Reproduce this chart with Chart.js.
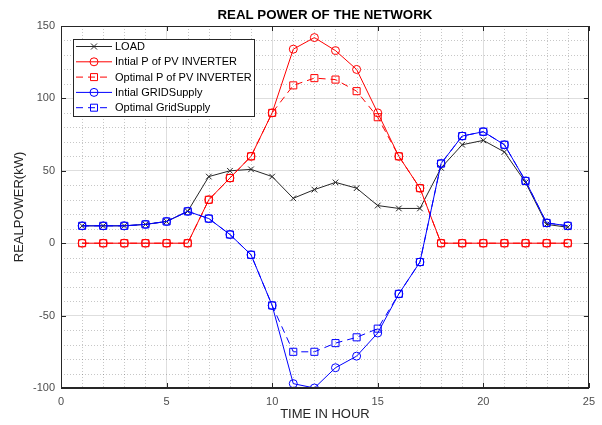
<!DOCTYPE html>
<html>
<head>
<meta charset="utf-8">
<script src="https://cdn.jsdelivr.net/npm/chart.js@4/dist/chart.umd.min.js"></script>
<style>
  body { margin: 0; background: #fff; }
  #wrap { width: 602px; height: 425px; }
</style>
</head>
<body>
<div id="wrap"><canvas id="myChart" width="602" height="425"></canvas></div>
<script>
// hours of the day
const hours = [1, 2, 3, 4, 5, 6, 7, 8, 9, 10, 11, 12, 13, 14, 15, 16, 17, 18, 19, 20, 21, 22, 23, 24];

// real power values (kW)
const loadKW = [12, 12, 12, 13, 15, 22, 46, 50, 51, 46, 31, 37, 42, 38, 26, 24, 24, 52, 68, 71, 63, 42, 13, 11];
const pvInitial = [0, 0, 0, 0, 0, 0, 30, 45, 60, 90, 134, 142, 133, 120, 90, 60, 38, 0, 0, 0, 0, 0, 0, 0];
const pvOptimal = [0, 0, 0, 0, 0, 0, 30, 45, 60, 90, 109, 114, 113, 105, 87, 60, 38, 0, 0, 0, 0, 0, 0, 0];
const gridInitial = [12, 12, 12, 13, 15, 22, 17, 6, -8, -43, -97, -100, -86, -78, -62, -35, -13, 55, 74, 77, 68, 43, 14, 12];
const gridOptimal = [12, 12, 12, 13, 15, 22, 17, 6, -8, -43, -75, -75, -69, -65, -59, -35, -13, 55, 74, 77, 68, 43, 14, 12];

const seriesNames = ["LOAD", "Intial P of PV INVERTER", "Optimal P of PV INVERTER", "Intial GRIDSupply", "Optimal GridSupply"];
const xTicks = [0, 5, 10, 15, 20, 25];
const yTicks = [-100, -50, 0, 50, 100, 150];

const FONT = "'Liberation Sans', Arial, Helvetica, sans-serif";

function toPoints(values) {
  return hours.map((h, i) => ({ x: h, y: values[i] }));
}

function makeSet(label, values, color, style, dashed, order) {
  return {
    label: label,
    data: toPoints(values),
    borderColor: color,
    backgroundColor: "transparent",
    borderWidth: 1,
    borderDash: dashed ? [7, 5] : [],
    pointStyle: style,
    pointRadius: style === "rect" ? 5 : 4,
    pointBorderColor: color,
    pointBackgroundColor: "transparent",
    pointBorderWidth: 1,
    tension: 0,
    order: order
  };
}

// marker used in the legend
function drawMarker(ctx, style, x, y, color) {
  ctx.save();
  ctx.strokeStyle = color;
  ctx.lineWidth = 1;
  ctx.setLineDash([]);
  ctx.beginPath();
  if (style === "circle") {
    ctx.arc(x, y, 4, 0, Math.PI * 2);
  } else if (style === "rect") {
    ctx.rect(x - 3.5, y - 3.5, 7, 7);
  } else {
    ctx.moveTo(x - 3, y - 3); ctx.lineTo(x + 3, y + 3);
    ctx.moveTo(x + 3, y - 3); ctx.lineTo(x - 3, y + 3);
  }
  ctx.stroke();
  ctx.restore();
}

// minor grid, inner ticks, box, title and legend (matlab look)
const matlabLook = {
  id: "matlabLook",
  beforeDatasetsDraw(chart) {
    const ctx = chart.ctx;
    const a = chart.chartArea;
    const xs = chart.scales.x;
    const ys = chart.scales.y;
    ctx.save();
    ctx.strokeStyle = "rgba(0,0,0,0.22)";
    ctx.lineWidth = 1;
    ctx.setLineDash([1, 2]);
    for (let v = 1; v < 25; v++) {
      if (v % 5 === 0) continue;
      const px = Math.round(xs.getPixelForValue(v)) + 0.5;
      ctx.beginPath(); ctx.moveTo(px, a.top); ctx.lineTo(px, a.bottom); ctx.stroke();
    }
    for (let v = -90; v < 150; v += 10) {
      if (v % 50 === 0) continue;
      const py = Math.round(ys.getPixelForValue(v)) + 0.5;
      ctx.beginPath(); ctx.moveTo(a.left, py); ctx.lineTo(a.right, py); ctx.stroke();
    }
    ctx.restore();
  },
  afterDraw(chart) {
    const ctx = chart.ctx;
    const a = chart.chartArea;
    const xs = chart.scales.x;
    const ys = chart.scales.y;
    ctx.save();
    // box
    ctx.strokeStyle = "#262626";
    ctx.lineWidth = 1;
    ctx.setLineDash([]);
    ctx.strokeRect(Math.round(a.left) + 0.5, Math.round(a.top) + 0.5, Math.round(a.right - a.left) - 1, Math.round(a.bottom - a.top) - 1);
    // inner ticks
    const tl = 5;
    xTicks.forEach((v) => {
      const px = Math.round(xs.getPixelForValue(v)) + 0.5;
      ctx.beginPath();
      ctx.moveTo(px, a.bottom); ctx.lineTo(px, a.bottom - tl);
      ctx.moveTo(px, a.top); ctx.lineTo(px, a.top + tl);
      ctx.stroke();
    });
    yTicks.forEach((v) => {
      const py = Math.round(ys.getPixelForValue(v)) + 0.5;
      ctx.beginPath();
      ctx.moveTo(a.left, py); ctx.lineTo(a.left + tl, py);
      ctx.moveTo(a.right, py); ctx.lineTo(a.right - tl, py);
      ctx.stroke();
    });
    // title, centred over the axes
    ctx.fillStyle = "#000";
    ctx.font = "bold 13.3px " + FONT;
    ctx.textAlign = "center";
    ctx.textBaseline = "middle";
    ctx.fillText("REAL POWER OF THE NETWORK", (a.left + a.right) / 2, 15);
    // legend
    const lx = 73, ly = 39, lw = 181, lh = 77;
    ctx.fillStyle = "#fff";
    ctx.fillRect(lx, ly, lw, lh);
    ctx.strokeStyle = "#262626";
    ctx.strokeRect(lx + 0.5, ly + 0.5, lw, lh);
    ctx.font = "11px " + FONT;
    ctx.textAlign = "left";
    chart.data.datasets.forEach((ds, i) => {
      const y = ly + 7.5 + i * 15.3;
      ctx.strokeStyle = ds.borderColor;
      ctx.setLineDash(ds.borderDash);
      ctx.beginPath(); ctx.moveTo(lx + 3, y); ctx.lineTo(lx + 39, y); ctx.stroke();
      ctx.setLineDash([]);
      drawMarker(ctx, ds.pointStyle, lx + 21, y, ds.borderColor);
      ctx.fillStyle = "#000";
      ctx.fillText(ds.label, lx + 42, y + 0.5);
    });
    ctx.restore();
  }
};

function initChart(target) {
  const datasets = [
    makeSet(seriesNames[0], loadKW, "#262626", "crossRot", false, 5),
    makeSet(seriesNames[1], pvInitial, "#ff0000", "circle", false, 4),
    makeSet(seriesNames[2], pvOptimal, "#ff0000", "rect", true, 3),
    makeSet(seriesNames[3], gridInitial, "#0000ff", "circle", false, 2),
    makeSet(seriesNames[4], gridOptimal, "#0000ff", "rect", true, 1)
  ];
  return new Chart(target, {
    type: "line",
    data: { datasets: datasets },
    options: {
      responsive: false,
      animation: false,
      events: [],
      layout: { padding: { top: 26, right: 13, left: 0, bottom: 0 } },
      plugins: {
        legend: { display: false },
        title: { display: false },
        tooltip: { enabled: false }
      },
      scales: {
        x: {
          type: "linear",
          min: 0,
          max: 25,
          afterFit: (scale) => { scale.height = 37; },
          afterBuildTicks: (scale) => { scale.ticks = xTicks.map((v) => ({ value: v })); },
          ticks: { color: "#4d4d4d", font: { family: FONT, size: 11 }, padding: 7, maxRotation: 0 },
          grid: { color: "rgba(0,0,0,0.13)", lineWidth: 1, drawTicks: false },
          border: { color: "#262626", width: 1 },
          title: { display: true, text: "TIME IN HOUR", color: "#262626", font: { family: FONT, size: 13 }, padding: { top: 0, bottom: 3 } }
        },
        y: {
          min: -100,
          max: 150,
          afterFit: (scale) => { scale.width = 61; },
          afterBuildTicks: (scale) => { scale.ticks = yTicks.map((v) => ({ value: v })); },
          ticks: { color: "#4d4d4d", font: { family: FONT, size: 11 }, padding: 6 },
          grid: { color: "rgba(0,0,0,0.13)", lineWidth: 1, drawTicks: false },
          border: { color: "#262626", width: 1 },
          title: { display: true, text: "REALPOWER(kW)", color: "#262626", font: { family: FONT, size: 13 }, padding: { top: 12, bottom: 0 } }
        }
      }
    },
    plugins: [matlabLook]
  });
}

document.addEventListener("DOMContentLoaded", () => {
  initChart(document.querySelector("#myChart"));
});
</script>
</body>
</html>
